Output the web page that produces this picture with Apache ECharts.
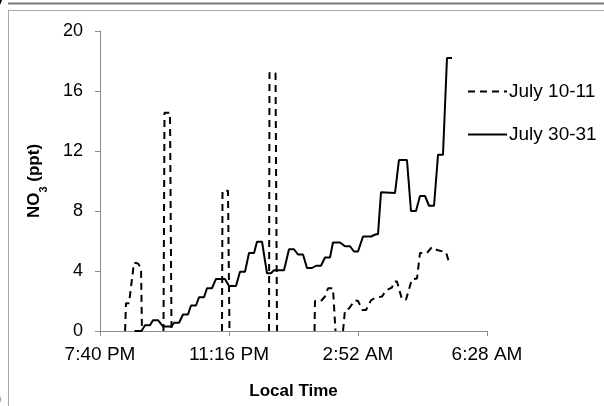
<!DOCTYPE html>
<html>
<head>
<meta charset="utf-8">
<script src="https://cdn.jsdelivr.net/npm/echarts@6/dist/echarts.min.js"></script>
<style>
  html, body { margin: 0; padding: 0; background: #fff; }
  #chart { width: 604px; height: 406px; }
</style>
</head>
<body>
<div id="chart"></div>
<script>
// minutes after 7:40 PM
const tickLabels = ['7:40 PM', '11:16 PM', '2:52 AM', '6:28 AM']

// July 10-11 (null = no data shown)
const tJuly10 = [42, 43.5, 48.6, 56.9, 63.6, 68.7, 70.3, 88, 106.3, 108, 117.2, 119.7, 160,
  204.3, 205.1, 214.3, 216.8, 250, 283, 283.8, 293.9, 296.4, 330,
  359.2, 360, 370, 376.7, 381.8, 390.1, 394.3, 400,
  406.9, 410.2, 416.9, 427, 432, 439.5, 445.4, 453.8, 460.5, 472.2, 478.9, 488.9, 492.3,
  497.3, 505.7, 512.4, 522.4, 530.8, 535.8, 547.5, 555.9, 564.3, 579.4, 583.5]
const no3July10 = [0, 1.85, 1.85, 4.55, 4.5, 4.2, 0, null, 0, 14.55, 14.55, 0, null,
  0, 9.35, 9.35, 0, null, 0, 17.2, 17.2, 0, null,
  0, 2.0, 2.0, 2.3, 2.85, 2.85, 0, null,
  0, 1.4, 1.5, 2.05, 2.0, 1.4, 1.4, 2.05, 2.2, 2.3, 2.7, 2.9, 3.3,
  3.3, 2.1, 2.1, 3.45, 3.5, 5.2, 5.2, 5.6, 5.4, 5.25, 4.7]

// July 30-31
const tJuly30 = [57.8, 69.5, 75.3, 83.7, 88.7, 97.1, 105.5, 119.7, 123.9, 132.3, 139, 147.3,
  152.4, 160.7, 165.8, 174.1, 179.2, 187.5, 194.2, 209.3, 216, 227.7, 234.4, 242.8,
  249.5, 257.9, 262.9, 271.3, 279.6, 286.3, 291.3, 308.1, 316.5, 324.8, 331.5, 339.9,
  346.6, 355, 361.7, 370, 376.7, 385.1, 390.1, 401.9, 410.2, 418.6, 425.3, 432,
  440.4, 453.8, 462.1, 465.5, 470.5, 494, 500.6, 514, 520.7, 529.1, 535.8, 544.2,
  550.9, 559.3, 566, 574.3, 581, 589.4]
const no3July30 = [0, 0, 0.38, 0.38, 0.72, 0.72, 0.3, 0.3, 0.55, 0.55, 1.1, 1.1,
  1.7, 1.7, 2.25, 2.25, 2.85, 2.85, 3.47, 3.47, 3.0, 3.0, 3.95, 3.95,
  5.2, 5.2, 5.95, 5.95, 3.85, 3.85, 4.05, 4.05, 5.45, 5.45, 5.1, 5.1,
  4.2, 4.2, 4.35, 4.35, 4.9, 4.9, 5.9, 5.9, 5.65, 5.65, 5.3, 5.3,
  6.3, 6.3, 6.45, 6.45, 9.25, 9.2, 11.4, 11.4, 8.0, 8.0, 9.0, 9.0,
  8.35, 8.35, 11.75, 11.75, 18.2, 18.2]

const font = 'Liberation Sans'
const axisGray = '#8c8c8c'

const chart = echarts.init(document.getElementById('chart'))

chart.setOption({
  animation: false,
  textStyle: { fontFamily: font },
  grid: { left: 100, right: 117, top: 31, bottom: 75 },
  legend: {
    orient: 'vertical',
    left: 462,
    top: 77,
    itemWidth: 39,
    itemHeight: 14,
    itemGap: 24,
    itemStyle: { opacity: 0 },
    textStyle: { fontSize: 19, color: '#000', fontFamily: font, padding: [0, 0, 0, -3] },
    data: ['July 10-11', 'July 30-31']
  },
  xAxis: {
    type: 'value',
    min: 0,
    max: 648,
    interval: 216,
    name: 'Local Time',
    nameLocation: 'middle',
    nameGap: 52,
    nameTextStyle: { fontSize: 17, fontWeight: 'bold', color: '#000', fontFamily: font },
    axisLine: { lineStyle: { color: axisGray } },
    axisTick: { length: 5, lineStyle: { color: axisGray } },
    axisLabel: {
      fontSize: 19,
      color: '#000',
      margin: 14,
      formatter: (v) => tickLabels[Math.round(v / 216)]
    },
    splitLine: { show: false }
  },
  yAxis: {
    type: 'value',
    min: 0,
    max: 20,
    interval: 4,
    name: '{a|NO}{s|3}{a| (ppt)}',
    nameLocation: 'middle',
    nameGap: 56,
    nameRotate: 90,
    nameTextStyle: {
      rich: {
        a: { fontSize: 17, fontWeight: 'bold', color: '#000', fontFamily: font, lineHeight: 20, verticalAlign: 'middle' },
        s: { fontSize: 11, fontWeight: 'bold', color: '#000', fontFamily: font, lineHeight: 20, verticalAlign: 'bottom', padding: [0, 0, -5, 0] }
      }
    },
    axisLine: { show: true, lineStyle: { color: axisGray } },
    axisTick: { show: true, length: 5, lineStyle: { color: axisGray } },
    axisLabel: { fontSize: 18, color: '#000', margin: 17 },
    splitLine: { show: false }
  },
  series: [
    {
      name: 'July 10-11',
      type: 'line',
      symbol: 'none',
      connectNulls: false,
      data: tJuly10.map((t, i) => [t, no3July10[i]]),
      lineStyle: { color: '#000', width: 2, type: [7, 5] },
      itemStyle: { color: '#000' }
    },
    {
      name: 'July 30-31',
      type: 'line',
      symbol: 'none',
      data: tJuly30.map((t, i) => [t, no3July30[i]]),
      lineStyle: { color: '#000', width: 2 },
      itemStyle: { color: '#000' }
    }
  ],
  graphic: [
    { type: 'line', shape: { x1: 8, y1: 3.5, x2: 604, y2: 3.5 }, style: { stroke: '#7a7a7a', lineWidth: 2 } },
    { type: 'line', shape: { x1: 8, y1: 10.5, x2: 604, y2: 10.5 }, style: { stroke: '#a6a6a6', lineWidth: 1 } },
    { type: 'line', shape: { x1: 8.5, y1: 10, x2: 8.5, y2: 406 }, style: { stroke: '#a6a6a6', lineWidth: 1 } },
    { type: 'text', left: -3, top: -14, style: { text: ')', fontSize: 20, fill: '#000', fontFamily: font } },
    { type: 'text', left: -5, top: 389, style: { text: ')', fontSize: 20, fill: '#000', fontFamily: font } }
  ]
})
</script>
</body>
</html>
